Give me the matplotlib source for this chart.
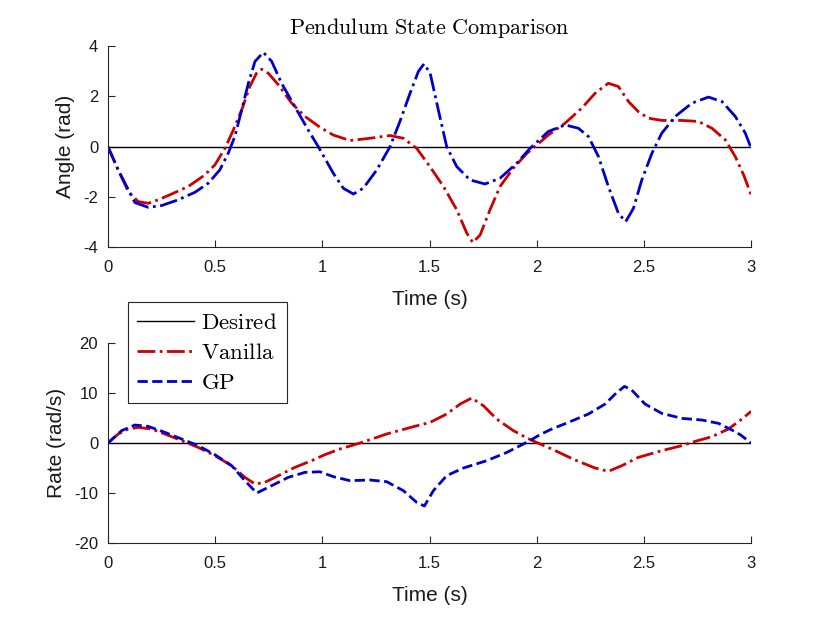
import numpy as np
import matplotlib.pyplot as plt
from matplotlib.ticker import FuncFormatter

plt.rcParams['font.family'] = ['Liberation Sans', 'DejaVu Sans']
plt.rcParams['mathtext.fontset'] = 'cm'
plt.rcParams['axes.unicode_minus'] = False

# angle (rad)
t_van_ang = [0, 0.048, 0.095, 0.141, 0.188, 0.235, 0.297, 0.375, 0.452, 0.499, 0.546,
             0.585, 0.624, 0.662, 0.693, 0.717, 0.748, 0.795, 0.857, 0.919, 0.989,
             1.051, 1.129, 1.222, 1.316, 1.378, 1.44, 1.502, 1.565, 1.627, 1.674,
             1.702, 1.736, 1.782, 1.829, 1.891, 1.954, 1.992, 2.054, 2.132, 2.21,
             2.272, 2.334, 2.381, 2.428, 2.474, 2.521, 2.583, 2.677, 2.754, 2.817,
             2.879, 2.926, 2.965, 3.0]
van_ang = [0, -0.93, -1.79, -2.19, -2.26, -2.12, -1.89, -1.59, -1.13, -0.73, -0.07,
           0.66, 1.46, 2.39, 2.92, 3.08, 2.92, 2.46, 1.73, 1.2, 0.77,
           0.46, 0.24, 0.33, 0.44, 0.33, -0.07, -0.8, -1.59, -2.52, -3.45,
           -3.82, -3.52, -2.52, -1.59, -0.86, -0.27, 0.0, 0.46, 0.93, 1.53,
           2.12, 2.52, 2.39, 1.79, 1.39, 1.13, 1.04, 1.04, 1.0, 0.73,
           0.27, -0.4, -1.13, -1.93]

t_gp_ang = [0, 0.048, 0.126, 0.188, 0.25, 0.328, 0.406, 0.468, 0.522, 0.561, 0.592,
            0.624, 0.655, 0.686, 0.725, 0.764, 0.81, 0.872, 0.934, 0.981, 1.051,
            1.098, 1.145, 1.191, 1.254, 1.316, 1.362, 1.409, 1.448, 1.474, 1.503,
            1.541, 1.58, 1.627, 1.689, 1.759, 1.829, 1.907, 1.969, 2.054, 2.132,
            2.194, 2.241, 2.288, 2.334, 2.381, 2.415, 2.451, 2.49, 2.537, 2.583,
            2.646, 2.724, 2.801, 2.864, 2.926, 2.973, 3.0]
gp_ang = [0, -0.93, -2.23, -2.42, -2.35, -2.12, -1.82, -1.46, -0.93, -0.27, 0.4,
          1.46, 2.52, 3.39, 3.75, 3.39, 2.52, 1.59, 0.66, 0.0, -1.06,
          -1.66, -1.89, -1.66, -0.93, 0.0, 1.0, 2.12, 2.99, 3.29, 2.92,
          1.46, 0.0, -0.8, -1.33, -1.49, -1.26, -0.66, -0.07, 0.6, 0.86,
          0.73, 0.4, -0.4, -1.59, -2.66, -2.99, -2.46, -1.33, -0.27, 0.53,
          1.2, 1.73, 1.97, 1.79, 1.2, 0.53, -0.07]

# rate (rad/s)
t_van_rate = [0, 0.048, 0.095, 0.141, 0.204, 0.266, 0.344, 0.421, 0.499, 0.577, 0.639,
              0.686, 0.732, 0.795, 0.872, 0.95, 1.012, 1.082, 1.176, 1.3, 1.425,
              1.503, 1.58, 1.643, 1.697, 1.751, 1.813, 1.891, 1.95, 2.0, 2.07,
              2.179, 2.272, 2.334, 2.397, 2.474, 2.583, 2.677, 2.739, 2.817, 2.894,
              2.957, 3.0]
van_rate = [0, 1.8, 2.8, 3.13, 2.8, 1.8, 0.47, -0.87, -2.53, -4.53, -6.87,
            -8.2, -7.87, -6.53, -4.87, -3.53, -2.33, -1.2, 0.0, 1.8, 3.27,
            4.13, 5.8, 7.8, 9.0, 7.47, 4.8, 2.47, 1.1, 0.1, -1.2,
            -3.4, -5.0, -5.67, -4.53, -2.87, -1.53, -0.53, 0.33, 1.27, 2.8,
            4.8, 6.33]

t_gp_rate = [0, 0.064, 0.126, 0.188, 0.266, 0.344, 0.421, 0.499, 0.577, 0.639, 0.694,
             0.764, 0.841, 0.919, 0.989, 1.051, 1.129, 1.222, 1.3, 1.378, 1.44,
             1.476, 1.518, 1.58, 1.658, 1.767, 1.861, 1.938, 1.969, 2.015, 2.07,
             2.148, 2.241, 2.319, 2.366, 2.409, 2.443, 2.505, 2.583, 2.677, 2.77,
             2.848, 2.91, 2.949, 3.0]
gp_rate = [0, 2.47, 3.6, 3.33, 2.13, 0.8, -0.53, -2.33, -4.53, -7.53, -10.0,
           -8.53, -6.87, -5.87, -5.75, -6.73, -7.53, -7.4, -7.73, -9.53, -11.87,
           -12.6, -9.53, -6.53, -5.0, -3.53, -1.87, -0.2, 0.5, 1.67, 2.8,
           4.13, 5.8, 7.8, 9.8, 11.33, 10.6, 7.8, 5.93, 4.93, 4.6,
           3.93, 2.6, 1.67, 0.0]

t_des = [0, 3]
des = [0, 0]

red = '#cc0000'
blue = '#0000cc'
axcol = '#262626'
txtcol = '#1a1a1a'

fig = plt.figure(figsize=(8.3, 6.23), dpi=100)
ax1 = fig.add_axes([0.130, 0.6035, 0.775, 0.3225])
ax2 = fig.add_axes([0.130, 0.1284, 0.775, 0.321])

fmt = FuncFormatter(lambda v, p: '{:g}'.format(v))

for ax in (ax1, ax2):
    for s in ('top', 'right'):
        ax.spines[s].set_visible(False)
    for s in ('left', 'bottom'):
        ax.spines[s].set_color(axcol)
        ax.spines[s].set_linewidth(0.8)
    ax.tick_params(direction='in', length=5, width=0.8, colors=axcol, labelsize=12,
                   labelcolor=txtcol)
    ax.tick_params(axis='x', pad=9)
    ax.tick_params(axis='y', pad=7)
    ax.set_xlim(0, 3)
    ax.set_xticks(np.arange(0, 3.01, 0.5))
    ax.xaxis.set_major_formatter(fmt)
    ax.set_xlabel('Time (s)', fontsize=15, color=txtcol, labelpad=11)

ax1.plot(t_des, des, color='black', lw=1.0)
ax1.plot(t_van_ang, van_ang, color=red, lw=2.0, ls='-.')
ax1.plot(t_gp_ang, gp_ang, color=blue, lw=2.0, ls='-.')
ax1.set_ylim(-4, 4)
ax1.set_yticks([-4, -2, 0, 2, 4])
ax1.set_ylabel('Angle (rad)', fontsize=15, color=txtcol, labelpad=6)
ax1.set_title(r'$\mathrm{Pendulum\ State\ Comparison}$', fontsize=16, pad=9)

ax2.plot(t_des, des, color='black', lw=1.0, label=r'$\mathrm{Desired}$')
ax2.plot(t_van_rate, van_rate, color=red, lw=2.0, ls='-.', label=r'$\mathrm{Vanilla}$')
ax2.plot(t_gp_rate, gp_rate, color=blue, lw=2.0, ls='--', label=r'$\mathrm{GP}$')
ax2.set_ylim(-20, 20)
ax2.set_yticks([-20, -10, 0, 10, 20])
ax2.set_ylabel('Rate (rad/s)', fontsize=15, color=txtcol, labelpad=6)

leg = ax2.legend(loc='upper left', bbox_to_anchor=(0.031, 1.205), borderaxespad=0,
                 fontsize=16.5, frameon=True, fancybox=False, edgecolor=axcol, framealpha=1,
                 handlelength=2.5, labelspacing=0.3, borderpad=0.4, handletextpad=0.3)
leg.get_frame().set_linewidth(0.8)

fig.savefig('out.png', dpi=100)
